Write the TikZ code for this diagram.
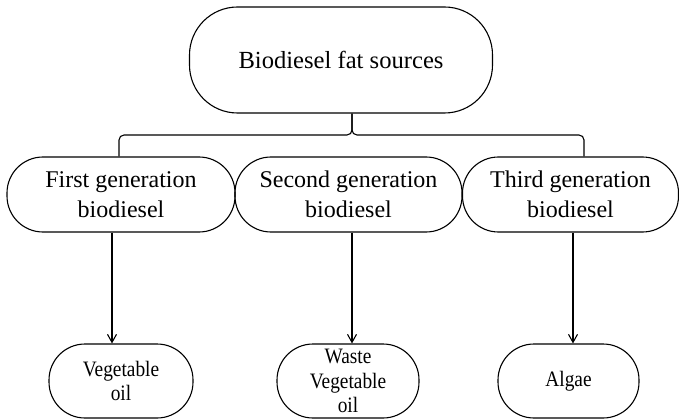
\documentclass[tikz,border=0pt]{standalone}
\usepackage{fontspec}
\setmainfont{Liberation Serif}
\newfontfamily\narrowserif[FakeStretch=0.88]{Liberation Serif}
\usetikzlibrary{arrows.meta}
\begin{document}
\begin{tikzpicture}[x=1pt,y=1pt,line width=1.1pt,
  box/.style={draw,align=center,inner sep=0pt},
  genbox/.style={box,minimum height=75pt,rounded corners=36pt,font=\fontsize{24}{30}\selectfont},
  srcbox/.style={box,minimum height=74pt,rounded corners=36pt,font=\narrowserif\fontsize{22}{24.5}\selectfont},
  >={Straight Barb[length=8pt,width=9pt]}]
\useasboundingbox (0,0) rectangle (679,418);
\node[box,minimum width=303pt,minimum height=106pt,rounded corners=48pt,font=\fontsize{24.6}{30}\selectfont](fat) at(341,358){Biodiesel fat sources};
\node[genbox,minimum width=228pt](first) at(121,223.5){First generation\\biodiesel};
\node[genbox,minimum width=227pt](second) at(348.5,223.5){Second generation\\biodiesel};
\node[genbox,minimum width=216pt](third) at(570.5,223.5){Third generation\\biodiesel};
\node[srcbox,minimum width=144pt](veg) at(121,37){Vegetable\\oil};
\node[srcbox,minimum width=142pt](waste) at(348,37){Waste\\Vegetable\\oil};
\node[srcbox,minimum width=141pt](algae) at(568.5,37){Algae};
\coordinate (bus) at(352,283);
\draw[rounded corners=5pt]([xshift=-2pt]first.north)|-(bus)--([xshift=11pt]fat.south);
\draw[rounded corners=5pt]([xshift=13.5pt]third.north)|-(bus)--([xshift=11pt]fat.south);
\draw[->]([xshift=-9pt]first.south)--([xshift=-9pt]first.south|-veg.north);
\draw[->]([xshift=3.5pt]second.south)--([xshift=3.5pt]second.south|-waste.north);
\draw[->]([xshift=2.5pt]third.south)--([xshift=2.5pt]third.south|-algae.north);
\end{tikzpicture}
\end{document}
